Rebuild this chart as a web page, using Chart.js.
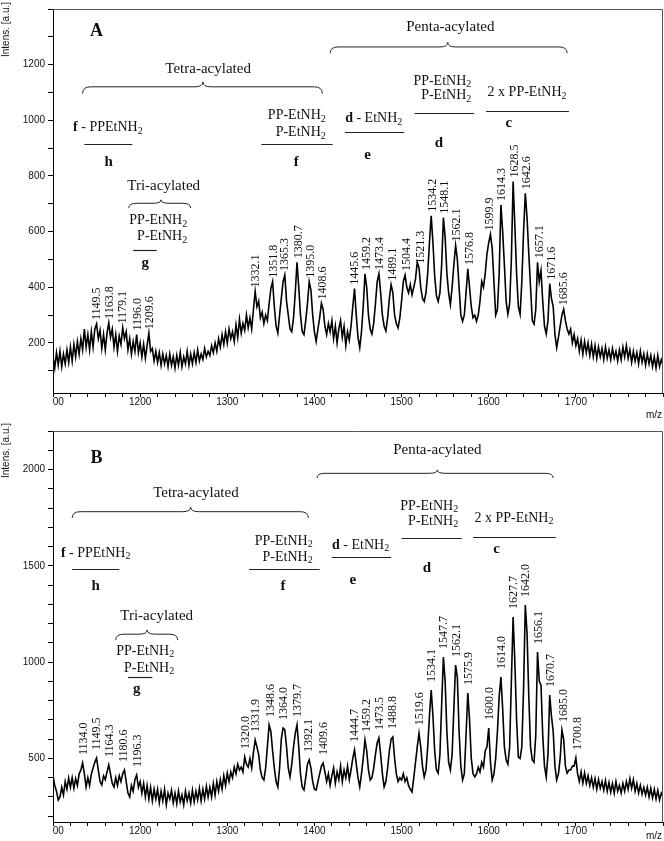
<!DOCTYPE html>
<html>
<head>
<meta charset="utf-8">
<script src="https://cdn.jsdelivr.net/npm/chart.js@4.4.1/dist/chart.umd.min.js"></script>
<style>
html, body { margin: 0; padding: 0; background: #fff; }
canvas { display: block; }
</style>
</head>
<body>
<canvas id="chartA" width="664" height="420"></canvas>
<canvas id="chartB" width="664" height="421"></canvas>
<script>
// spectrum sampled every 2 m/z from 1100 to 1800
const mzStart = 1100;
const mzStep = 2;

const intensA = [
    150,110,165,120,170,115,160,125,175,130,
    185,135,195,150,205,160,215,175,250,185,
    230,175,240,185,250,268,215,245,180,230,
    175,235,272,220,250,185,230,170,225,195,
    255,215,240,175,215,160,205,170,230,165,
    200,150,195,145,190,235,170,180,135,170,
    130,165,120,160,125,155,115,160,120,150,
    110,155,120,165,115,150,125,170,120,160,
    125,165,130,175,135,160,140,180,150,170,
    155,190,165,200,170,215,185,230,195,240,
    200,250,215,240,205,265,220,285,235,270,
    245,300,255,290,250,320,385,330,350,290,
    310,270,300,280,340,395,420,330,260,235,
    300,360,420,444,350,300,250,240,290,380,
    490,400,300,240,230,280,340,420,390,300,
    240,205,250,290,342,320,260,230,270,240,
    280,215,260,200,250,280,220,260,190,240,
    210,260,330,395,300,220,183,240,330,448,
    400,300,250,232,270,340,420,448,380,300,
    260,243,290,360,409,380,300,270,254,290,
    350,420,444,400,380,410,373,400,430,490,
    470,400,360,349,380,450,560,657,560,440,
    370,349,380,480,650,580,450,380,338,400,
    480,550,500,400,300,278,300,380,466,400,
    330,290,300,278,300,350,420,400,450,520,
    560,590,540,420,300,320,450,696,600,480,
    350,303,340,500,780,620,450,330,303,420,
    600,738,650,520,400,280,268,320,490,420,
    460,350,260,232,280,413,360,330,230,183,
    220,260,300,321,280,250,232,250,200,230,
    190,215,170,210,160,205,165,200,155,195,
    150,190,145,185,150,180,140,185,145,175,
    140,180,145,170,135,175,140,185,150,190,
    145,175,130,170,135,165,125,170,130,160,
    120,160,125,155,115,150,110,155,115,140,
    120
];

const intensB = [
    410,360,330,284,300,350,310,380,340,398,
    350,400,345,395,360,420,440,476,420,352,
    400,360,420,450,480,502,440,380,362,410,
    390,430,466,420,370,352,400,360,410,380,
    420,440,380,320,300,360,330,390,414,350,
    380,320,370,300,360,290,350,280,340,290,
    340,270,330,280,340,260,320,290,335,270,
    320,265,330,275,310,260,330,280,320,268,
    335,275,330,285,345,280,340,290,355,300,
    350,300,370,310,380,330,390,340,410,360,
    424,380,430,400,455,420,470,440,455,430,
    507,470,455,500,450,530,596,560,520,440,
    400,388,450,560,674,640,540,450,380,352,
    450,600,658,650,560,450,404,470,560,630,
    674,560,420,350,336,400,470,492,450,380,
    340,336,380,420,460,476,430,380,420,360,
    410,450,372,430,390,460,380,440,400,460,
    390,440,500,544,470,400,352,420,500,596,
    540,440,388,400,450,520,580,606,520,420,
    352,380,450,540,600,611,500,420,380,400,
    388,420,380,400,360,340,326,400,480,560,
    631,560,460,404,440,560,720,855,720,540,
    440,424,520,780,1027,900,640,480,440,520,
    760,985,920,640,460,388,420,620,840,700,
    500,420,404,420,455,430,480,455,540,560,
    658,480,388,420,500,640,820,923,760,560,
    492,470,560,900,1234,1000,700,507,500,560,
    860,1297,1150,820,560,492,480,620,1053,900,
    880,620,460,404,520,829,720,640,460,388,
    420,500,648,600,460,424,440,440,460,460,
    502,420,380,430,372,424,370,410,360,400,
    350,395,340,390,345,380,335,385,330,375,
    325,370,320,380,330,360,320,370,330,380,
    340,395,345,390,330,370,320,360,315,350,
    310,350,300,345,295,340,290,335,284,320,
    300
];

const peakLabelsA = ["1149.5", "1163.8", "1179.1", "1196.0", "1209.6",
    "1332.1", "1351.8", "1365.3", "1380.7", "1395.0", "1408.6",
    "1445.6", "1459.2", "1473.4", "1489.1", "1504.4", "1521.3",
    "1534.2", "1548.1", "1562.1", "1576.8", "1599.9", "1614.3",
    "1628.5", "1642.6", "1657.1", "1671.6", "1685.6"];

const peakLabelsB = ["1134.0", "1149.5", "1164.3", "1180.6", "1196.3",
    "1320.0", "1331.9", "1348.6", "1364.0", "1379.7", "1392.1", "1409.6",
    "1444.7", "1459.2", "1473.5", "1488.8", "1519.6", "1534.1",
    "1547.7", "1562.1", "1575.9", "1600.0", "1614.0", "1627.7",
    "1642.0", "1656.1", "1670.7", "1685.0", "1700.8"];

const xTickLabels = ["1100", "1200", "1300", "1400", "1500", "1600", "1700"];

const PP = [["PP-EtNH"], ["2", "s"]];
const P1 = [["P-EtNH"], ["2", "s"]];

// annotation layout, in data units (m/z, intensity)
const notesA = [
    { mz: 1150, y: 1326, parts: [["A", "b"]], size: 18 },
    { mz: 1278, y: 1188, parts: [["Tetra-acylated"]], size: 15 },
    { mz: 1556, y: 1340, parts: [["Penta-acylated"]], size: 15 },
    { mz: 1163, y: 979, parts: [["f", "b"], [" - PPEtNH"], ["2", "s"]] },
    { mz: 1164, y: 855, parts: [["h", "b"]], size: 15 },
    { mz: 1413, y: 1021, parts: PP, align: "right" },
    { mz: 1413, y: 961, parts: P1, align: "right" },
    { mz: 1379, y: 855, parts: [["f", "b"]], size: 15 },
    { mz: 1227, y: 767, parts: [["Tri-acylated"]], size: 15 },
    { mz: 1254, y: 643, parts: PP, align: "right" },
    { mz: 1254, y: 586, parts: P1, align: "right" },
    { mz: 1206, y: 491, parts: [["g", "b"]], size: 15 },
    { mz: 1580, y: 1145, parts: PP, align: "right" },
    { mz: 1580, y: 1092, parts: P1, align: "right" },
    { mz: 1644, y: 1103, parts: [["2 x PP-EtNH"], ["2", "s"]] },
    { mz: 1623, y: 993, parts: [["c", "b"]], size: 15 },
    { mz: 1468, y: 1011, parts: [["d", "b"], [" - EtNH"], ["2", "s"]] },
    { mz: 1461, y: 880, parts: [["e", "b"]], size: 15 },
    { mz: 1543, y: 922, parts: [["d", "b"]], size: 15 }
];
const linesA = [[1136, 1191, 915], [1339, 1421, 915], [1192, 1219, 533],
    [1515, 1583, 1025], [1597, 1692, 1032], [1435, 1503, 958]];
const bracesA = [
    { x1: 1134, x2: 1409, tip: 1272, yTip: 1138, yEnd: 1096 },
    { x1: 1418, x2: 1690, tip: 1553, yTip: 1280, yEnd: 1241 },
    { x1: 1187, x2: 1258, tip: 1224, yTip: 714, yEnd: 685 }
];

const notesB = [
    { mz: 1150, y: 2065, parts: [["B", "b"]], size: 18 },
    { mz: 1264, y: 1883, parts: [["Tetra-acylated"]], size: 15 },
    { mz: 1541, y: 2107, parts: [["Penta-acylated"]], size: 15 },
    { mz: 1149, y: 1572, parts: [["f", "b"], [" - PPEtNH"], ["2", "s"]] },
    { mz: 1149, y: 1401, parts: [["h", "b"]], size: 15 },
    { mz: 1398, y: 1634, parts: PP, align: "right" },
    { mz: 1398, y: 1551, parts: P1, align: "right" },
    { mz: 1364, y: 1401, parts: [["f", "b"]], size: 15 },
    { mz: 1219, y: 1245, parts: [["Tri-acylated"]], size: 15 },
    { mz: 1239, y: 1063, parts: PP, align: "right" },
    { mz: 1239, y: 975, parts: P1, align: "right" },
    { mz: 1196, y: 866, parts: [["g", "b"]], size: 15 },
    { mz: 1565, y: 1816, parts: PP, align: "right" },
    { mz: 1565, y: 1738, parts: P1, align: "right" },
    { mz: 1629, y: 1754, parts: [["2 x PP-EtNH"], ["2", "s"]] },
    { mz: 1609, y: 1593, parts: [["c", "b"]], size: 15 },
    { mz: 1453, y: 1613, parts: [["d", "b"], [" - EtNH"], ["2", "s"]] },
    { mz: 1444, y: 1432, parts: [["e", "b"]], size: 15 },
    { mz: 1529, y: 1494, parts: [["d", "b"]], size: 15 }
];
const linesB = [[1122, 1176, 1484], [1325, 1406, 1484], [1186, 1214, 923],
    [1500, 1569, 1645], [1582, 1677, 1650], [1420, 1488, 1546]];
const bracesB = [
    { x1: 1122, x2: 1393, tip: 1258, yTip: 1805, yEnd: 1748 },
    { x1: 1403, x2: 1674, tip: 1541, yTip: 1998, yEnd: 1956 },
    { x1: 1172, x2: 1243, tip: 1208, yTip: 1167, yEnd: 1115 }
];

const SERIF = '"Liberation Serif", "Times New Roman", serif';
const SANS = '"Liberation Sans", Arial, sans-serif';

function drawRich(ctx, parts, x, y, size, align) {
    const fontOf = p => (p[1] === "b" ? "bold " : "") +
        (p[1] === "s" ? Math.round(size * 0.68) : size) + "px " + SERIF;
    let total = 0;
    parts.forEach(p => { ctx.font = fontOf(p); total += ctx.measureText(p[0]).width; });
    let cx = align === "right" ? x - total : x - total / 2;
    const base = y + size * 0.33;
    ctx.textAlign = "left";
    ctx.textBaseline = "alphabetic";
    parts.forEach(p => {
        ctx.font = fontOf(p);
        ctx.fillText(p[0], cx, p[1] === "s" ? base + size * 0.2 : base);
        cx += ctx.measureText(p[0]).width;
    });
}

function brace(ctx, x1, x2, xt, yTip, yEnd) {
    const yH = yTip + (yEnd - yTip) * 0.42;
    const r = 8;
    ctx.beginPath();
    ctx.moveTo(x1, yEnd);
    ctx.quadraticCurveTo(x1, yH, x1 + r, yH);
    ctx.lineTo(xt - r, yH);
    ctx.quadraticCurveTo(xt, yH, xt, yTip);
    ctx.quadraticCurveTo(xt, yH, xt + r, yH);
    ctx.lineTo(x2 - r, yH);
    ctx.quadraticCurveTo(x2, yH, x2, yEnd);
    ctx.stroke();
}

function makeChart(id, values, peaks, cfg) {
    const points = values.map((v, i) => ({ x: mzStart + i * mzStep, y: v }));

    const decor = {
        id: "decor",
        afterDraw(chart) {
            const { ctx, chartArea } = chart;
            const xs = chart.scales.x;
            const ys = chart.scales.y;
            ctx.save();

            // frame top / right
            ctx.strokeStyle = "#555";
            ctx.lineWidth = 1;
            ctx.beginPath();
            ctx.moveTo(chartArea.left, chartArea.top + 0.5);
            ctx.lineTo(chartArea.right - 0.5, chartArea.top + 0.5);
            ctx.lineTo(chartArea.right - 0.5, chartArea.bottom);
            ctx.stroke();

            // x tick labels, clipped at the axis like the original
            ctx.save();
            ctx.beginPath();
            ctx.rect(chartArea.left, chartArea.bottom, chart.width, chart.height);
            ctx.clip();
            ctx.fillStyle = "#111";
            ctx.font = "10px " + SANS;
            ctx.textAlign = "center";
            ctx.textBaseline = "middle";
            xTickLabels.forEach(t => {
                ctx.fillText(t, xs.getPixelForValue(+t), chartArea.bottom + 9);
            });
            ctx.restore();

            ctx.fillStyle = "#111";
            ctx.font = "10px " + SANS;
            ctx.textAlign = "right";
            ctx.textBaseline = "alphabetic";
            ctx.fillText("m/z", chart.width - 2, chart.height - 2);

            // y title
            ctx.save();
            ctx.translate(6, cfg.titleTop);
            ctx.rotate(-Math.PI / 2);
            ctx.textAlign = "right";
            ctx.textBaseline = "middle";
            ctx.fillText("Intens. [a.u.]", 0, 0);
            ctx.restore();

            // peak labels
            ctx.font = "12px " + SERIF;
            ctx.textAlign = "left";
            ctx.textBaseline = "middle";
            peaks.forEach(lbl => {
                const mz = parseFloat(lbl);
                let top = 0;
                points.forEach(p => {
                    if (Math.abs(p.x - mz) <= 3 && p.y > top) top = p.y;
                });
                ctx.save();
                ctx.translate(xs.getPixelForValue(mz) + 1, ys.getPixelForValue(top) - cfg.labelGap);
                ctx.rotate(-Math.PI / 2);
                ctx.fillText(lbl, 0, 0);
                ctx.restore();
            });

            // group lines
            ctx.strokeStyle = "#222";
            ctx.lineWidth = 1.2;
            cfg.lines.forEach(l => {
                const y = Math.round(ys.getPixelForValue(l[2])) + 0.5;
                ctx.beginPath();
                ctx.moveTo(xs.getPixelForValue(l[0]), y);
                ctx.lineTo(xs.getPixelForValue(l[1]), y);
                ctx.stroke();
            });

            // braces
            ctx.lineWidth = 1;
            cfg.braces.forEach(b => {
                brace(ctx, xs.getPixelForValue(b.x1), xs.getPixelForValue(b.x2),
                    xs.getPixelForValue(b.tip), ys.getPixelForValue(b.yTip),
                    ys.getPixelForValue(b.yEnd));
            });

            // text notes
            ctx.fillStyle = "#111";
            cfg.notes.forEach(n => {
                drawRich(ctx, n.parts, xs.getPixelForValue(n.mz),
                    ys.getPixelForValue(n.y), n.size || 14, n.align);
            });

            ctx.restore();
        }
    };

    return new Chart(document.getElementById(id), {
        type: "line",
        data: {
            datasets: [{
                data: points,
                borderColor: "#000",
                borderWidth: 1.6,
                pointRadius: 0,
                tension: 0,
                fill: false
            }]
        },
        options: {
            responsive: false,
            animation: false,
            layout: {
                padding: { left: 0, right: 1, top: cfg.padTop, bottom: 0 }
            },
            plugins: {
                legend: { display: false },
                tooltip: { enabled: false }
            },
            scales: {
                x: {
                    type: "linear",
                    min: 1100,
                    max: 1800,
                    ticks: { stepSize: 20, display: false, autoSkip: false },
                    grid: { drawOnChartArea: false, tickLength: 4, color: "#000" },
                    border: { color: "#000", width: 1 },
                    afterFit: s => { s.height = cfg.xAxisHeight; }
                },
                y: {
                    min: cfg.yMin,
                    max: cfg.yMax,
                    ticks: {
                        stepSize: 100,
                        includeBounds: false,
                        autoSkip: false,
                        padding: 3,
                        color: "#111",
                        font: { family: SANS, size: 10 },
                        callback: v => (v % cfg.labelStep === 0 && v < cfg.yMax ? v : "")
                    },
                    grid: { drawOnChartArea: false, tickLength: 5, color: "#000" },
                    border: { color: "#000", width: 1 },
                    afterFit: s => { s.width = 53; }
                }
            }
        },
        plugins: [decor]
    });
}

makeChart("chartA", intensA, peakLabelsA, {
    yMin: 20, yMax: 1400, labelStep: 200, padTop: 3, xAxisHeight: 27,
    titleTop: 2, labelGap: 4, notes: notesA, lines: linesA, braces: bracesA
});

makeChart("chartB", intensB, peakLabelsB, {
    yMin: 170, yMax: 2200, labelStep: 500, padTop: 11, xAxisHeight: 19,
    titleTop: 3, labelGap: 8, notes: notesB, lines: linesB, braces: bracesB
});
</script>
</body>
</html>
